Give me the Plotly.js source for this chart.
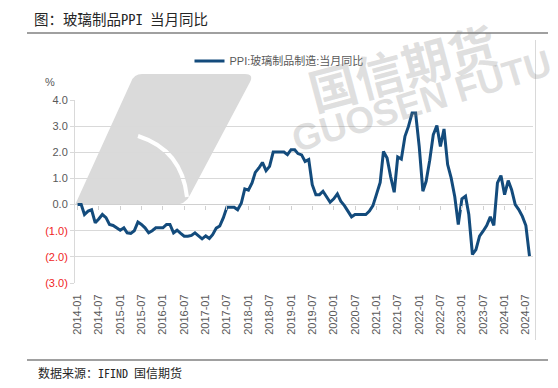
<!DOCTYPE html>
<html><head><meta charset="utf-8">
<script src="https://cdn.plot.ly/plotly-3.0.1.min.js"></script>
<style>html,body{margin:0;padding:0;background:#fff;}#chart{width:558px;height:388px;}</style>
</head><body><div id="chart"></div>
<script>
// ---- data ----
const startYear = 2014;
const startMonth = 1;
const seriesName = 'PPI:玻璃制品制造:当月同比';
const values = [
  // 2014
  0.0, 0.0, -0.38, -0.25, -0.2, -0.7, -0.55, -0.38, -0.5, -0.76, -0.8, -0.89,
  // 2015
  -0.98, -0.89, -1.08, -1.1, -1.0, -0.67, -0.76, -0.89, -1.08, -1.0, -0.89, -0.89,
  // 2016
  -0.89, -0.76, -0.76, -1.08, -0.98, -1.1, -1.21, -1.21, -1.18, -1.08, -1.21, -1.31,
  // 2017
  -1.2, -1.3, -1.15, -0.9, -0.82, -0.5, -0.1, -0.1, -0.1, -0.2, 0.05, 0.6,
  // 2018
  0.55, 0.83, 1.23, 1.4, 1.61, 1.3, 1.46, 2.01, 2.01, 2.01, 2.01, 1.91,
  // 2019
  2.1, 2.1, 1.95, 1.9, 1.65, 1.72, 0.76, 0.38, 0.38, 0.51, 0.29, 0.09,
  // 2020
  0.22, 0.41, 0.13, -0.04, -0.25, -0.47, -0.38, -0.38, -0.38, -0.38, -0.25, -0.04,
  // 2021
  0.4, 0.85, 2.03, 1.78, 1.08, 0.47, 1.82, 1.74, 2.61, 2.99, 3.5, 3.5,
  // 2022
  2.22, 0.51, 0.89, 1.7, 2.67, 3.02, 2.22, 2.89, 1.53, 1.02, 0.3, -0.76,
  // 2023
  0.22, 0.32, -0.38, -1.91, -1.72, -1.21, -1.02, -0.8, -0.47, -0.8, 0.83, 1.11,
  // 2024
  0.38, 0.92, 0.57, 0.0, -0.19, -0.45, -0.8, -1.97
];
const yTickVals = [4, 3, 2, 1, 0, -1, -2, -3];
const yTickText = ['4.0', '3.0', '2.0', '1.0', '0.0', '(1.0)', '(2.0)', '(3.0)'];
const titleText = '图：玻璃制品PPI 当月同比';
const sourceText = '数据来源：IFIND 国信期货';
const unitText = '%';
const watermarkCn = '国信期货';
const watermarkEn = 'GUOSEN FUTU';

const months = values.map((v, i) => {
  const t = (startMonth - 1) + i;
  const y = startYear + Math.floor(t / 12);
  const m = (t % 12) + 1;
  return y + '-' + String(m).padStart(2, '0') + '-01';
});

// ---- geometry helpers (pixel -> paper) ----
const L = 75, R = 25, T = 100, B = 105, W = 558, H = 388;
const pw = W - L - R, ph = H - T - B;
const px = x => (x - L) / pw;
const py = y => (H - B - y) / ph;
const pt = (x, y) => px(x).toFixed(4) + ',' + py(y).toFixed(4);

const red = '#f02424';
const ticktext = yTickText.map(t => t.startsWith('(') ? '<span style="color:' + red + '">' + t + '</span>' : t);

const tickFont = {family: 'Liberation Sans, Arial, sans-serif', size: 11, color: '#595959'};
const cjkMono = '"Noto Sans Mono CJK SC", "Noto Sans CJK SC", monospace';
const xRange = ['2013-12-10', '2024-08-31'];

const traces = [
  {x: months, y: values, xaxis: 'x', yaxis: 'y', mode: 'lines', showlegend: false,
   hoverinfo: 'skip', line: {width: 0, color: 'rgba(0,0,0,0)'}},
  {x: months, y: values, xaxis: 'x2', yaxis: 'y', mode: 'lines', name: seriesName,
   line: {color: '#134b7c', width: 3}}
];

const layout = {
  width: W, height: H,
  margin: {l: L, r: R, t: T, b: B, pad: 0},
  paper_bgcolor: '#ffffff', plot_bgcolor: 'rgba(0,0,0,0)',
  showlegend: true,
  legend: {orientation: 'h', x: px(189.5), xanchor: 'left', y: py(61), yanchor: 'middle',
           font: {family: 'Liberation Sans, "Noto Sans CJK SC", sans-serif', size: 11, color: '#595959'},
           bgcolor: 'rgba(0,0,0,0)', borderwidth: 0, itemwidth: 30},
  xaxis: {type: 'date', range: xRange, tick0: '2014-01-01', dtick: 'M6', tickformat: '%Y-%m',
          tickangle: -90, showgrid: false, showline: false, zeroline: false,
          ticks: 'outside', ticklen: 6, tickcolor: 'rgba(0,0,0,0)', tickfont: tickFont},
  xaxis2: {type: 'date', range: xRange, tick0: '2014-01-01', dtick: 'M6', overlaying: 'x',
           anchor: 'free', position: py(205), side: 'bottom', showticklabels: false,
           ticks: 'outside', ticklen: 4, tickcolor: '#d0d0d0', tickwidth: 1,
           showgrid: false, showline: false, zeroline: false},
  yaxis: {range: [-3, 4], tickvals: yTickVals, ticktext: ticktext, tickfont: tickFont,
          showgrid: true, gridcolor: '#d9d9d9', gridwidth: 1,
          showline: true, linecolor: '#d9d9d9', linewidth: 1,
          ticks: 'outside', ticklen: 4, tickcolor: '#d9d9d9',
          zeroline: true, zerolinecolor: '#d0d0d0', zerolinewidth: 1},
  shapes: [
    // watermark logo
    {type: 'path', xref: 'paper', yref: 'paper', layer: 'below',
     path: 'M' + pt(75, 205) + ' L' + pt(172, 205) + ' Q' + pt(186, 205) + ' ' + pt(190, 195) +
           ' L' + pt(250, 82) + ' Q' + pt(254, 74) + ' ' + pt(245, 74) + ' L' + pt(142, 74) +
           ' Q' + pt(134, 74) + ' ' + pt(131, 82) + ' Z',
     fillcolor: '#dadada', line: {width: 0}},
    {type: 'path', xref: 'paper', yref: 'paper', layer: 'below',
     path: 'M' + pt(138, 136) + ' Q' + pt(182, 150) + ' ' + pt(187, 197),
     line: {color: '#ffffff', width: 4}},
    // header and footer rules
    {type: 'line', xref: 'paper', yref: 'paper', x0: px(27), x1: px(548), y0: py(33), y1: py(33),
     line: {color: '#808080', width: 1.5}},
    {type: 'line', xref: 'paper', yref: 'paper', x0: px(27), x1: px(548), y0: py(360), y1: py(360),
     line: {color: '#808080', width: 1.5}},
    // right border of chart area
    {type: 'line', xref: 'paper', yref: 'paper', x0: px(535.5), x1: px(535.5), y0: py(40), y1: py(340),
     line: {color: '#d9d9d9', width: 1}}
  ],
  annotations: [
    {text: watermarkCn, xref: 'paper', yref: 'paper', x: px(402), y: py(66),
     xanchor: 'center', yanchor: 'middle', showarrow: false, textangle: -15,
     font: {family: '"Noto Sans CJK SC", sans-serif', size: 48, color: 'rgba(128,128,128,0.25)', weight: 700}},
    {text: watermarkEn, xref: 'paper', yref: 'paper', x: px(421), y: py(101),
     xanchor: 'center', yanchor: 'middle', showarrow: false, textangle: -17,
     font: {family: 'Liberation Sans, Arial, sans-serif', size: 37, color: 'rgba(128,128,128,0.25)', weight: 700}},
    {text: titleText, xref: 'paper', yref: 'paper', x: px(31.5), y: py(18.5),
     xanchor: 'left', yanchor: 'middle', showarrow: false,
     font: {family: cjkMono, size: 14.5, color: '#262626'}},
    {text: sourceText, xref: 'paper', yref: 'paper', x: px(36), y: py(372),
     xanchor: 'left', yanchor: 'middle', showarrow: false,
     font: {family: cjkMono, size: 12, color: '#262626'}},
    {text: unitText, xref: 'paper', yref: 'paper', x: px(50), y: py(82),
     xanchor: 'center', yanchor: 'middle', showarrow: false,
     font: {family: 'Liberation Sans, Arial, sans-serif', size: 11, color: '#595959'}}
  ]
};

Plotly.newPlot('chart', traces, layout, {staticPlot: true, displayModeBar: false});
</script>
</body></html>
